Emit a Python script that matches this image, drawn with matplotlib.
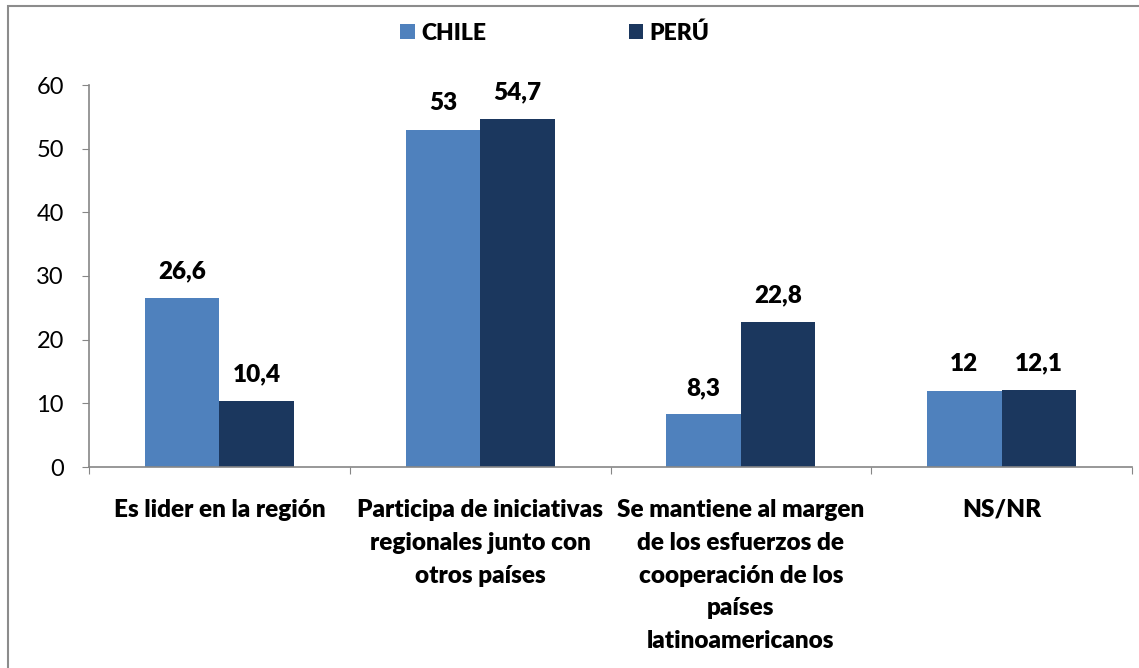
import matplotlib
matplotlib.use("Agg")
import matplotlib.pyplot as plt
from matplotlib.patches import Rectangle
import numpy as np

categories = ["Es lider en la región",
              "Participa de iniciativas\nregionales junto con\notros países",
              "Se mantiene al margen\nde los esfuerzos de\ncooperación de los\npaíses\nlatinoamericanos",
              "NS/NR"]
series_names = ["CHILE", "PERÚ"]
chile = [26.6, 53, 8.3, 12]
peru = [10.4, 54.7, 22.8, 12.1]
chile_labels = ["26,6", "53", "8,3", "12"]
peru_labels = ["10,4", "54,7", "22,8", "12,1"]
yticks = [0, 10, 20, 30, 40, 50, 60]

colors = ["#4F81BD", "#1B375E"]
font = "Lato"
plt.rcParams['font.family'] = [font, 'DejaVu Sans']
BOLD = "heavy"

W, H = 1139, 668
fig = plt.figure(figsize=(W/100, H/100), dpi=100)
fig.patch.set_facecolor("white")

# outer frame
fig.add_artist(Rectangle((8/W, -0.1), 1.2, (H-6)/H + 0.1, transform=fig.transFigure,
                         fill=False, edgecolor="#8C8C8C", linewidth=1.5))

left, right, top, bottom = 89, 1132, 85, 467
ax = fig.add_axes([left/W, 1-bottom/H, (right-left)/W, (bottom-top)/H])

x = np.arange(len(categories))
bw = 0.286
b1 = ax.bar(x - bw/2, chile, bw, color=colors[0], label=series_names[0])
b2 = ax.bar(x + bw/2, peru, bw, color=colors[1], label=series_names[1])

for bars, labs in ((b1, chile_labels), (b2, peru_labels)):
    for rect, lab in zip(bars, labs):
        ax.annotate(lab, (rect.get_x() + rect.get_width()/2, rect.get_height()),
                    xytext=(0, 11), textcoords="offset points", ha="center", va="bottom",
                    fontsize=17.5, fontweight=BOLD, color="black")

ax.set_xlim(-0.5, len(categories) - 0.5)
ax.set_ylim(0, 60)
ax.set_yticks(yticks)
ax.set_yticklabels([str(v) for v in yticks], fontsize=17)
ax.set_xticks(np.arange(len(categories) + 1) - 0.5)
ax.set_xticklabels([])
ax.set_xticks(x, minor=True)
ax.set_xticklabels(categories, minor=True, fontsize=17.5, fontweight=BOLD, linespacing=1.6, va="top")
ax.tick_params(axis="x", which="minor", length=0, pad=23)
ax.tick_params(axis="x", which="major", length=5, color="#868686", direction="out")
ax.tick_params(axis="y", length=5, color="#868686", direction="out", pad=13)

for s in ["top", "right"]:
    ax.spines[s].set_visible(False)
for s in ["left", "bottom"]:
    ax.spines[s].set_color("#868686")
    ax.spines[s].set_linewidth(1.2)

leg = fig.legend(handles=[b1, b2], labels=series_names, loc="center",
                 bbox_to_anchor=(555/W, 1-33/H), ncol=2, frameon=False,
                 prop={"family": font, "weight": BOLD, "size": 16.5},
                 handlelength=0.62, handleheight=0.62, handletextpad=0.3, columnspacing=6.2)

fig.savefig("out.png", dpi=100, facecolor="white")
